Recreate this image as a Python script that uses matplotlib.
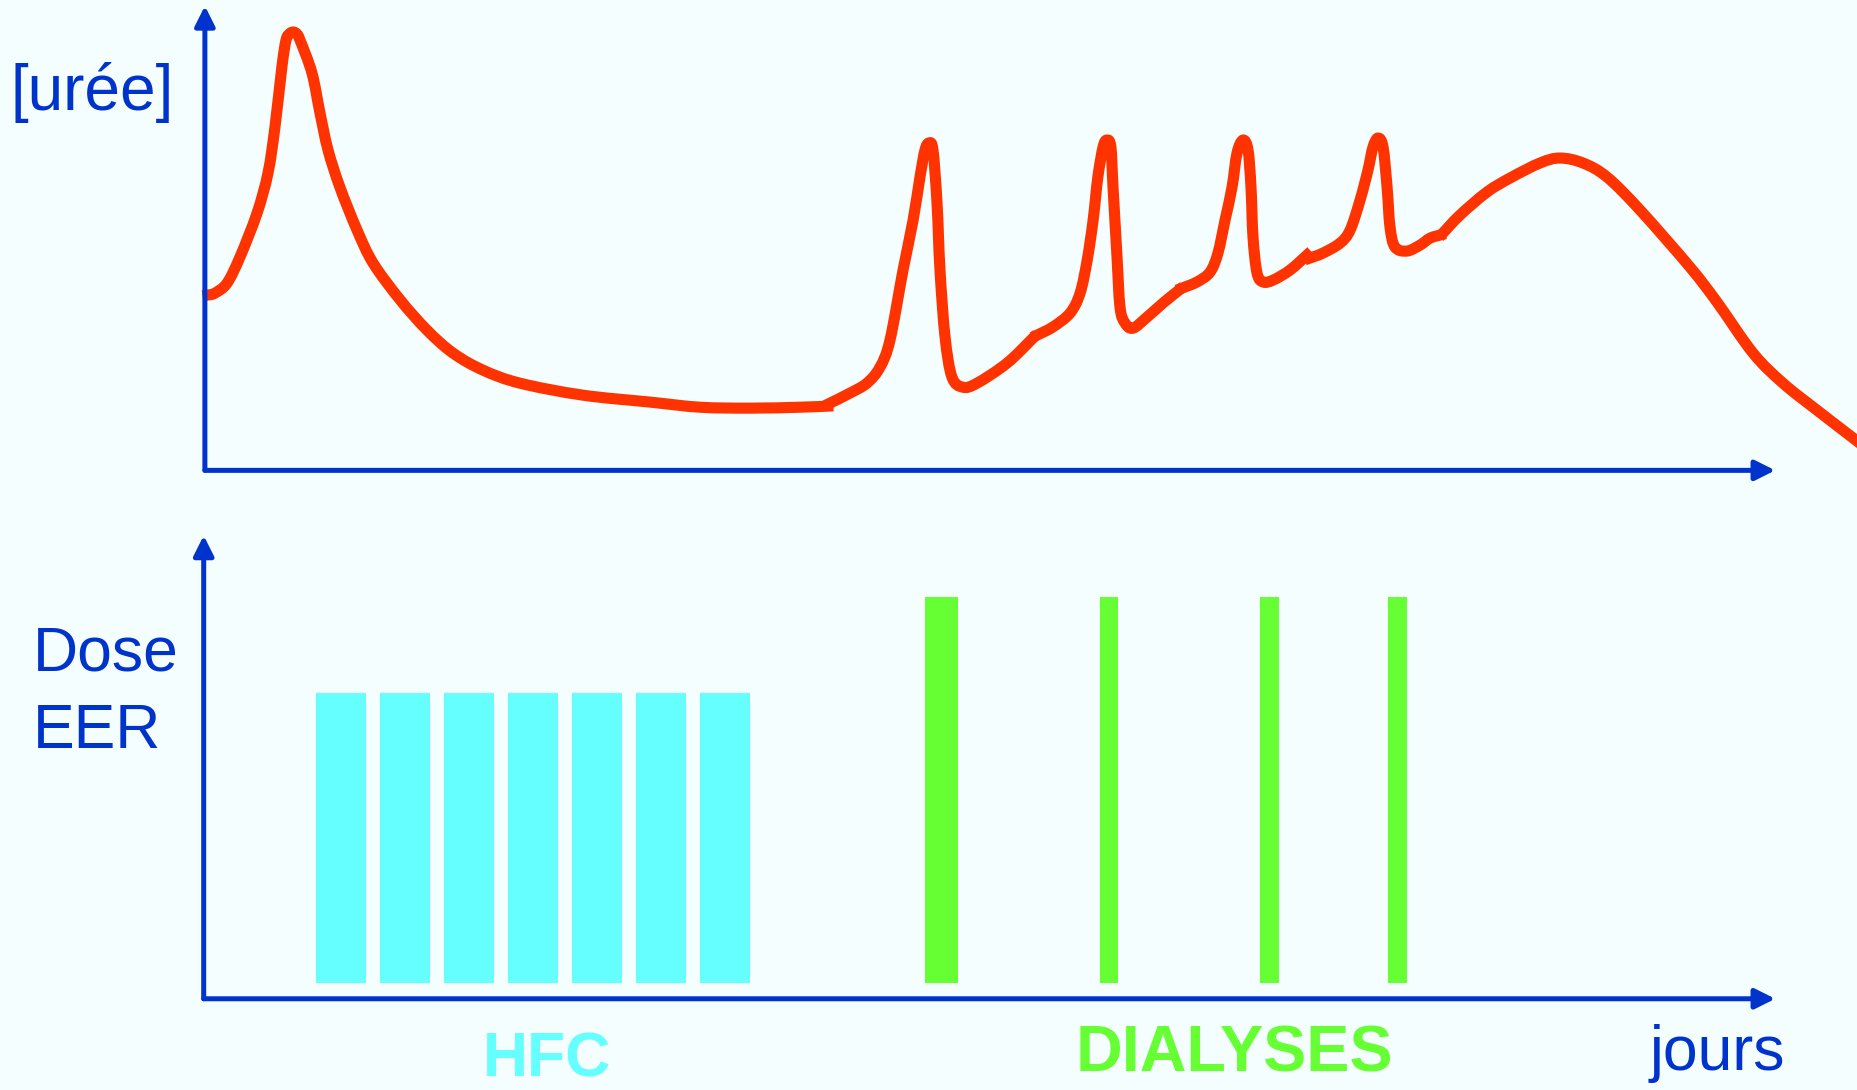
import matplotlib.pyplot as plt
from matplotlib.path import Path
from matplotlib.patches import PathPatch

# urea curve, drawn as separate pieces like the original slide
# (x: time units from the origin, y: urea level, arbitrary units)
seg1_x = [2.6, 8.5, 18.7, 29.6, 44, 53.3, 59.2, 65, 68.5, 71.5, 74.4, 77.5, 80.3, 90.4, 97.2, 104, 114,
          128.4, 142, 164.8, 187.5, 209.5, 234.8, 266, 319, 376, 418, 460, 502.5, 526]
seg1_y = [148, 149.6, 158, 180, 217, 251, 290, 340.4, 363.2, 368.5, 370, 368.5, 363.2, 335.4, 301.6, 270.3, 239,
          203, 175, 144, 118.4, 99, 84.6, 73.6, 63.5, 57.6, 53.3, 52.5, 53.3, 54.2]
seg2_x = [527.8, 544.7, 559, 570, 578.5, 589.5, 598, 603.8, 608, 611.4, 614.8, 618.2, 620.7, 625, 630.8, 640,
          652, 677.3, 699.2]
seg2_y = [56.7, 65.2, 73.6, 87, 110, 169, 211.2, 247.5, 270.3, 276.3, 270.3, 225.6, 169, 112.4, 78.7, 70.2,
          73.6, 90.5, 111.6]
seg3_x = [702.6, 716, 730.5, 739, 745, 750, 754, 758.4, 761.7, 765, 766.8, 770, 772.7, 777, 783.7, 795.5,
          809, 822.5]
seg3_y = [114.1, 121, 132.7, 149.6, 177.5, 211.2, 247.5, 273, 278.8, 273, 239, 183.4, 137.8, 124.3, 120,
          129.3, 141.2, 152.1]
seg4_x = [825, 837.7, 848.7, 855.4, 861.4, 867.3, 871.5, 876.6, 880.8, 883.3, 885, 888.4, 893.5, 902,
          916.2, 930.6]
seg4_y = [153.8, 159, 167.3, 183.4, 211.2, 239, 267.8, 278.8, 270.3, 239, 197, 166.5, 159, 160.6, 169, 181.7]
seg5_x = [933.1, 944.1, 958.5, 967, 975.4, 982.1, 986.3, 990.6, 994.8, 998.2, 1000.7, 1004.9, 1015, 1026,
          1034.5, 1043]
seg5_y = [179.2, 183.4, 191.8, 202.8, 228.1, 253.5, 272.9, 280.5, 272.9, 239.1, 205.3, 188.4, 185.1, 190.1,
          196, 198.6]
seg6_x = [1045.4, 1059.8, 1082.6, 1102, 1127.3, 1144.2, 1163.7, 1184, 1211.8, 1254, 1276.8, 1307.2, 1332.5,
          1361.2, 1390.8, 1405]
seg6_y = [200.3, 215.5, 234.9, 246.7, 259.4, 263.6, 259.4, 247.5, 219.7, 171.5, 142, 99, 73.6, 50.8, 28, 17]

# dose bars (HFC = continuous, then intermittent dialyses)
hfc_left = [95, 149, 203, 257, 311, 365, 419]
hfc_width = 42
hfc_bottom = 13
hfc_top = 258
dial_left = [609, 757, 892, 1000]
dial_width = [28, 15, 16, 16]
dial_top = 339

blue = '#0033CC'
red = '#FF3300'
cyan = '#66FFFF'
green = '#66FF33'
bg = '#F4FEFE'

plt.rcParams['font.family'] = ['Liberation Sans', 'DejaVu Sans']


def smooth_path(xs, ys):
    # Catmull-Rom style bezier through the points (drawing only, data untouched)
    pts = list(zip(xs, ys))
    verts = [pts[0]]
    codes = [Path.MOVETO]
    n = len(pts)
    for i in range(n - 1):
        p0 = pts[max(i - 1, 0)]
        p1 = pts[i]
        p2 = pts[i + 1]
        p3 = pts[min(i + 2, n - 1)]
        c1 = (p1[0] + (p2[0] - p0[0]) / 6, p1[1] + (p2[1] - p0[1]) / 6)
        c2 = (p2[0] - (p3[0] - p1[0]) / 6, p2[1] - (p3[1] - p1[1]) / 6)
        verts += [c1, c2, p2]
        codes += [Path.CURVE4] * 3
    return Path(verts, codes)


fig = plt.figure(figsize=(18.57, 10.90), dpi=100, facecolor=bg)

# upper panel: urea
ax1 = fig.add_axes([173 / 1568, 1 - 397 / 920, 1395 / 1568, 397 / 920])
ax1.set_xlim(0, 1395)
ax1.set_ylim(0, 397)
ax1.axis('off')
for sx, sy in [(seg1_x, seg1_y), (seg2_x, seg2_y), (seg3_x, seg3_y),
               (seg4_x, seg4_y), (seg5_x, seg5_y), (seg6_x, seg6_y)]:
    ax1.add_patch(PathPatch(smooth_path(sx, sy), fill=False, edgecolor=red, lw=8,
                            capstyle='projecting', joinstyle='round', clip_on=False))

arrow = dict(arrowstyle='-|>,head_length=0.6,head_width=0.3', mutation_scale=20,
             lw=3.6, color=blue, shrinkA=0, shrinkB=0)
ax1.annotate('', xy=(1326, 0), xytext=(0, 0), arrowprops=arrow, annotation_clip=False)
ax1.annotate('', xy=(0, 392), xytext=(0, 0), arrowprops=arrow, annotation_clip=False)

# lower panel: dose
ax2 = fig.add_axes([172 / 1568, 1 - 843 / 920, 1396 / 1568, 403 / 920])
ax2.set_xlim(0, 1396)
ax2.set_ylim(0, 403)
ax2.axis('off')
ax2.bar(hfc_left, hfc_top - hfc_bottom, width=hfc_width, bottom=hfc_bottom, align='edge', color=cyan)
ax2.bar(dial_left, dial_top - hfc_bottom, width=dial_width, bottom=hfc_bottom, align='edge', color=green)
ax2.annotate('', xy=(1327, 0), xytext=(0, 0), arrowprops=arrow, annotation_clip=False)
ax2.annotate('', xy=(0, 391), xytext=(0, 0), arrowprops=arrow, annotation_clip=False)

# labels
fig.text(9 / 1568, 1 - 93 / 920, '[urée]', color=blue, fontsize=46, va='baseline')
fig.text(28 / 1568, 1 - 566 / 920, 'Dose', color=blue, fontsize=45, va='baseline')
fig.text(28 / 1568, 1 - 631 / 920, 'EER', color=blue, fontsize=45, va='baseline')
fig.text(462 / 1568, 1 - 909 / 920, 'HFC', color=cyan, fontsize=45, fontweight='bold',
         ha='center', va='baseline')
fig.text(1042 / 1568, 1 - 904 / 920, 'DIALYSES', color=green, fontsize=46.5, fontweight='bold',
         ha='center', va='baseline')
fig.text(1450 / 1568, 1 - 903 / 920, 'jours', color=blue, fontsize=45, ha='center', va='baseline')

fig.savefig('out.png', dpi=100, facecolor=bg)
